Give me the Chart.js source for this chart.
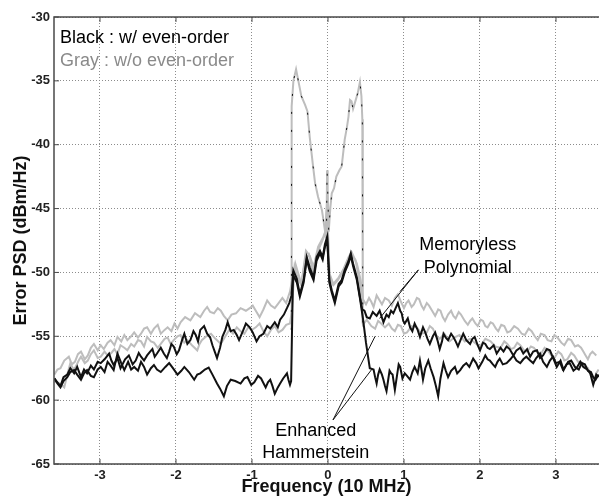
<!DOCTYPE html>
<html lang="en">
<head>
<meta charset="UTF-8">
<title>Error PSD</title>
<script src="https://cdn.jsdelivr.net/npm/chart.js"></script>
<style>
  html, body { margin: 0; padding: 0; background: #fff; }
  #wrap { width: 599px; height: 502px; }
</style>
</head>
<body>
<div id="wrap"><canvas id="psdChart"></canvas></div>
<script>
  // tick positions
  const xTicks = [-3, -2, -1, 0, 1, 2, 3];
  const yTicks = [-65, -60, -55, -50, -45, -40, -35, -30];

  // [frequency (10 MHz), error PSD (dBm/Hz)]
  // black, memoryless polynomial (w/ even-order)
  const blackMemoryless = [
    [-3.60,-58.3],[-3.56,-58.6],[-3.52,-58.9],[-3.48,-58.2],[-3.43,-58.0],[-3.39,-57.5],[-3.34,-57.9],[-3.30,-57.4],
    [-3.25,-58.2],[-3.21,-57.6],[-3.17,-57.9],[-3.12,-57.3],[-3.08,-57.6],[-3.03,-57.0],[-2.99,-57.1],[-2.94,-56.8],
    [-2.88,-56.35],[-2.85,-56.9],[-2.82,-57.25],[-2.77,-56.7],[-2.73,-57.5],[-2.67,-56.8],[-2.62,-56.5],[-2.57,-57.2],
    [-2.53,-56.9],[-2.49,-56.3],[-2.46,-56.6],[-2.42,-56.9],[-2.38,-56.5],[-2.34,-56.2],[-2.31,-56.0],[-2.28,-56.6],
    [-2.25,-56.35],[-2.20,-55.9],[-2.16,-56.35],[-2.12,-56.7],[-2.09,-56.2],[-2.06,-55.6],[-2.03,-55.8],[-1.99,-56.4],
    [-1.96,-56.1],[-1.92,-55.3],[-1.89,-54.8],[-1.85,-55.6],[-1.81,-55.3],[-1.77,-54.6],[-1.74,-54.9],[-1.71,-55.4],
    [-1.68,-54.5],[-1.63,-54.2],[-1.59,-54.8],[-1.55,-55.1],[-1.52,-55.7],[-1.49,-56.2],[-1.46,-56.7],[-1.42,-55.9],
    [-1.39,-55.05],[-1.35,-54.5],[-1.32,-53.9],[-1.28,-54.6],[-1.24,-54.5],[-1.20,-54.9],[-1.17,-55.3],[-1.12,-54.6],
    [-1.08,-54.0],[-1.03,-54.3],[-0.99,-54.7],[-0.94,-55.4],[-0.90,-55.0],[-0.85,-54.8],[-0.80,-54.2],[-0.76,-54.4],
    [-0.70,-53.9],[-0.66,-54.3],[-0.63,-53.7],[-0.58,-53.3],[-0.54,-52.8],[-0.51,-52.4],[-0.48,-51.8],
    [-0.456,-49.85],[-0.41,-50.5],[-0.37,-51.7],[-0.32,-50.6],[-0.28,-48.8],[-0.24,-49.6],[-0.19,-50.4],[-0.15,-48.8],
    [-0.105,-48.3],[-0.07,-48.8],[-0.04,-47.8],[-0.01,-47.2],[0.018,-50.6],[0.05,-51.4],[0.09,-52.2],[0.14,-50.9],
    [0.18,-50.6],[0.22,-49.8],[0.27,-49.1],[0.30,-48.5],[0.33,-49.3],[0.38,-50.4],[0.42,-51.9],
    [0.45,-52.9],[0.48,-53.0],[0.51,-53.5],[0.55,-53.6],[0.59,-53.1],[0.64,-53.4],[0.68,-53.0],[0.73,-53.9],
    [0.77,-53.3],[0.80,-53.5],[0.83,-53.0],[0.86,-53.2],[0.89,-52.8],[0.92,-52.4],[0.95,-53.0],[0.97,-53.2],
    [0.99,-53.8],[1.01,-54.0],[1.05,-53.6],[1.08,-54.3],[1.11,-54.6],[1.14,-54.0],[1.18,-54.5],[1.21,-55.05],
    [1.25,-54.3],[1.28,-54.7],[1.31,-55.2],[1.34,-55.6],[1.38,-55.0],[1.41,-54.7],[1.44,-55.3],[1.47,-56.0],
    [1.50,-55.4],[1.52,-54.8],[1.55,-55.1],[1.58,-55.3],[1.62,-54.8],[1.65,-55.05],[1.68,-55.4],[1.71,-55.8],
    [1.75,-55.2],[1.78,-54.8],[1.82,-55.3],[1.87,-55.6],[1.90,-55.2],[1.93,-55.05],[1.97,-55.7],[2.00,-56.1],
    [2.04,-55.5],[2.07,-55.6],[2.10,-55.9],[2.13,-56.0],[2.18,-55.7],[2.22,-56.35],[2.27,-55.9],[2.31,-56.2],
    [2.35,-55.8],[2.39,-56.0],[2.44,-56.5],[2.48,-56.1],[2.53,-55.9],[2.57,-56.35],[2.62,-56.0],[2.66,-56.6],
    [2.70,-56.2],[2.75,-56.1],[2.79,-56.7],[2.83,-56.5],[2.88,-56.0],[2.92,-56.1],[2.97,-56.8],[3.01,-57.4],
    [3.06,-56.9],[3.10,-57.65],[3.14,-57.2],[3.18,-57.1],[3.23,-57.7],[3.27,-57.5],[3.32,-57.0],[3.36,-57.4],
    [3.41,-57.6],[3.45,-57.9],[3.49,-58.8],[3.53,-58.0],[3.56,-58.2]
  ];

  // black, enhanced Hammerstein (w/ even-order)
  const blackHammerstein = [
    [-3.60,-58.3],[-3.56,-58.7],[-3.52,-59.0],[-3.48,-58.5],[-3.43,-58.2],[-3.39,-57.8],[-3.34,-57.65],[-3.30,-58.0],
    [-3.25,-58.4],[-3.21,-57.9],[-3.17,-57.65],[-3.12,-58.1],[-3.08,-58.2],[-3.03,-57.6],[-2.99,-57.4],[-2.94,-57.8],
    [-2.90,-57.0],[-2.86,-57.3],[-2.82,-57.65],[-2.77,-56.35],[-2.72,-57.1],[-2.68,-57.65],[-2.63,-57.0],[-2.59,-57.6],
    [-2.55,-57.4],[-2.50,-57.7],[-2.46,-57.0],[-2.42,-57.4],[-2.38,-58.0],[-2.33,-57.5],[-2.29,-57.25],[-2.25,-57.6],
    [-2.20,-57.8],[-2.14,-57.4],[-2.09,-57.1],[-2.04,-57.5],[-1.98,-58.0],[-1.93,-57.7],[-1.89,-57.4],[-1.83,-57.8],
    [-1.76,-58.4],[-1.72,-58.0],[-1.68,-57.9],[-1.62,-57.6],[-1.57,-57.45],[-1.52,-58.0],[-1.46,-58.7],[-1.42,-59.1],
    [-1.37,-59.7],[-1.33,-58.9],[-1.28,-58.4],[-1.22,-58.5],[-1.15,-58.7],[-1.10,-58.3],[-1.06,-58.2],[-1.01,-58.8],
    [-0.97,-58.6],[-0.92,-58.1],[-0.88,-58.3],[-0.82,-59.0],[-0.79,-58.6],[-0.76,-58.4],[-0.73,-58.9],[-0.70,-59.5],
    [-0.66,-59.0],[-0.63,-58.7],[-0.59,-58.3],[-0.54,-57.9],[-0.52,-58.4],[-0.50,-58.8],[-0.485,-58.5],
    [-0.46,-50.2],[-0.41,-50.8],[-0.37,-51.9],[-0.32,-50.8],[-0.28,-49.0],[-0.24,-49.9],[-0.19,-50.6],[-0.15,-49.1],
    [-0.105,-48.5],[-0.07,-49.0],[-0.04,-48.0],[-0.01,-47.4],[0.018,-50.8],[0.05,-51.6],[0.09,-52.4],[0.14,-51.1],
    [0.18,-50.8],[0.22,-50.0],[0.27,-49.3],[0.30,-48.7],[0.33,-49.5],[0.38,-50.6],[0.42,-52.0],[0.46,-53.6],
    [0.50,-55.5],[0.55,-57.5],
    [0.60,-57.6],[0.62,-58.2],[0.64,-58.7],[0.66,-58.0],[0.68,-57.6],[0.71,-58.0],[0.73,-58.4],[0.75,-58.9],
    [0.77,-59.3],[0.79,-58.5],[0.81,-57.7],[0.83,-57.9],[0.85,-58.0],[0.88,-59.2],[0.91,-58.0],[0.93,-57.2],
    [0.95,-57.4],[0.98,-58.3],[1.01,-57.9],[1.04,-58.1],[1.08,-58.4],[1.11,-57.8],[1.14,-57.4],[1.18,-57.9],
    [1.21,-56.9],[1.23,-57.6],[1.25,-58.4],[1.28,-57.5],[1.32,-56.9],[1.35,-57.5],[1.39,-58.2],[1.42,-58.9],
    [1.45,-59.7],[1.48,-58.3],[1.52,-57.1],[1.55,-57.7],[1.58,-58.2],[1.62,-57.7],[1.67,-57.4],[1.70,-57.9],
    [1.74,-57.65],[1.78,-57.3],[1.82,-57.1],[1.86,-57.4],[1.91,-56.75],[1.95,-57.1],[1.98,-57.5],[2.03,-57.0],
    [2.07,-56.5],[2.10,-56.8],[2.13,-56.9],[2.17,-57.2],[2.20,-57.4],[2.23,-57.0],[2.26,-56.75],[2.30,-57.2],
    [2.35,-57.1],[2.40,-56.8],[2.44,-56.5],[2.48,-56.9],[2.53,-57.1],[2.57,-56.8],[2.61,-56.6],[2.66,-56.9],
    [2.70,-57.1],[2.74,-56.7],[2.79,-56.35],[2.83,-57.0],[2.88,-57.4],[2.92,-56.9],[2.96,-56.6],[3.00,-57.1],
    [3.05,-57.0],[3.09,-57.6],[3.12,-57.4],[3.16,-57.0],[3.20,-56.9],[3.25,-57.4],[3.30,-57.6],[3.34,-57.1],
    [3.38,-57.2],[3.42,-57.7],[3.46,-57.8],[3.49,-58.2],[3.52,-58.4],[3.56,-58.0]
  ];

  // gray, memoryless polynomial (w/o even-order)
  const grayMemoryless = [
    [-3.60,-58.0],[-3.56,-57.6],[-3.52,-57.5],[-3.47,-56.9],[-3.41,-56.6],[-3.37,-57.2],[-3.33,-57.0],[-3.29,-56.4],
    [-3.25,-56.2],[-3.20,-56.8],[-3.16,-56.5],[-3.12,-55.9],[-3.08,-55.6],[-3.03,-56.1],[-2.99,-55.7],[-2.95,-56.0],
    [-2.90,-55.5],[-2.86,-55.3],[-2.81,-55.7],[-2.77,-55.05],[-2.72,-55.4],[-2.68,-54.9],[-2.64,-55.3],[-2.59,-55.0],
    [-2.55,-54.7],[-2.50,-55.1],[-2.46,-54.8],[-2.42,-54.4],[-2.38,-54.3],[-2.33,-54.8],[-2.29,-54.4],[-2.24,-54.1],
    [-2.20,-54.8],[-2.15,-54.5],[-2.11,-54.3],[-2.06,-54.6],[-2.02,-54.0],[-1.98,-54.4],[-1.94,-53.9],[-1.88,-53.5],
    [-1.81,-53.75],[-1.75,-53.2],[-1.68,-53.5],[-1.63,-53.0],[-1.59,-52.7],[-1.55,-53.1],[-1.50,-53.2],[-1.45,-52.8],
    [-1.41,-53.0],[-1.37,-53.4],[-1.32,-53.75],[-1.27,-53.3],[-1.21,-53.2],[-1.15,-52.8],[-1.08,-53.0],[-1.03,-52.8],
    [-0.99,-52.6],[-0.94,-53.1],[-0.90,-53.5],[-0.85,-52.9],[-0.80,-52.2],[-0.75,-52.6],[-0.70,-52.8],[-0.65,-52.4],
    [-0.60,-52.0],[-0.55,-52.4],[-0.50,-51.5],
    [-0.47,-50.5],[-0.43,-49.3],[-0.39,-50.1],[-0.35,-50.9],[-0.29,-48.3],[-0.24,-48.7],[-0.19,-49.6],[-0.13,-48.0],
    [-0.06,-47.2],[-0.03,-46.7],[-0.012,-44.5],[0.02,-50.1],[0.07,-50.9],[0.14,-50.4],[0.20,-49.8],[0.27,-48.8],
    [0.31,-48.4],[0.38,-49.3],[0.43,-50.6],
    [0.46,-52.1],[0.50,-52.5],[0.54,-52.0],[0.57,-52.3],[0.60,-52.7],[0.64,-51.8],[0.68,-52.2],[0.71,-52.5],
    [0.75,-52.0],[0.80,-52.2],[0.84,-52.6],[0.88,-52.0],[0.92,-51.7],[0.96,-52.3],[1.00,-52.8],[1.03,-52.4],
    [1.06,-52.2],[1.10,-52.7],[1.13,-52.5],[1.17,-52.0],[1.20,-52.1],[1.23,-52.6],[1.26,-52.9],[1.30,-52.4],
    [1.33,-52.6],[1.37,-53.0],[1.41,-53.4],[1.45,-52.9],[1.48,-53.0],[1.51,-53.5],[1.54,-53.8],[1.58,-53.3],
    [1.62,-53.0],[1.65,-53.4],[1.68,-53.6],[1.72,-53.1],[1.75,-53.3],[1.80,-53.8],[1.84,-54.1],[1.87,-53.8],
    [1.90,-53.6],[1.94,-54.0],[1.97,-54.2],[2.01,-53.7],[2.04,-53.8],[2.07,-54.2],[2.10,-54.3],[2.14,-53.9],
    [2.17,-54.0],[2.21,-54.4],[2.24,-54.6],[2.28,-54.1],[2.32,-54.2],[2.36,-54.7],[2.40,-54.6],[2.45,-54.2],
    [2.50,-54.4],[2.55,-54.8],[2.59,-54.9],[2.64,-54.4],[2.68,-54.6],[2.72,-55.0],[2.76,-55.3],[2.80,-54.8],
    [2.85,-54.9],[2.89,-55.3],[2.94,-55.4],[2.98,-54.9],[3.02,-55.1],[3.07,-55.5],[3.11,-55.7],[3.16,-55.2],
    [3.20,-55.3],[3.25,-55.8],[3.29,-55.7],[3.33,-55.9],[3.36,-56.2],[3.39,-56.5],[3.42,-56.8],[3.45,-56.4],
    [3.48,-56.2],[3.53,-56.5]
  ];

  // gray, enhanced Hammerstein (w/o even-order)
  const grayHammerstein = [
    [-3.60,-58.5],[-3.53,-58.7],[-3.47,-59.0],[-3.43,-58.0],[-3.39,-57.1],[-3.35,-57.6],[-3.32,-57.4],[-3.28,-56.9],
    [-3.25,-56.6],[-3.20,-57.1],[-3.16,-56.9],[-3.12,-56.4],[-3.08,-56.1],[-3.03,-56.7],[-2.99,-56.6],[-2.94,-56.2],
    [-2.90,-56.5],[-2.85,-56.3],[-2.81,-56.0],[-2.77,-56.4],[-2.73,-55.7],[-2.68,-55.9],[-2.64,-56.1],[-2.59,-55.6],
    [-2.55,-55.8],[-2.50,-55.3],[-2.46,-55.4],[-2.42,-55.8],[-2.38,-55.05],[-2.33,-55.4],[-2.29,-55.5],[-2.24,-55.9],
    [-2.20,-55.6],[-2.15,-55.2],[-2.11,-55.1],[-2.07,-55.6],[-2.03,-55.3],[-1.98,-55.0],[-1.94,-54.9],[-1.89,-55.5],
    [-1.85,-55.3],[-1.79,-55.7],[-1.72,-56.1],[-1.69,-55.6],[-1.66,-55.3],[-1.60,-55.0],[-1.54,-54.8],[-1.48,-55.2],
    [-1.41,-55.6],[-1.35,-55.0],[-1.30,-54.5],[-1.25,-54.8],[-1.20,-54.3],[-1.15,-54.6],[-1.10,-54.8],[-1.05,-54.3],
    [-1.00,-54.5],[-0.95,-54.3],[-0.90,-54.0],[-0.85,-54.6],[-0.80,-55.0],[-0.75,-54.5],[-0.70,-54.2],[-0.65,-54.7],
    [-0.60,-54.5],[-0.55,-54.1],[-0.50,-54.0],[-0.475,-53.0],
    [-0.44,-49.6],[-0.40,-50.4],[-0.35,-51.0],[-0.30,-49.0],[-0.25,-48.6],[-0.20,-49.9],[-0.14,-48.4],[-0.08,-47.6],
    [-0.04,-47.0],[-0.015,-45.0],[0.02,-50.4],[0.07,-51.0],[0.13,-50.6],[0.19,-50.0],[0.25,-49.2],[0.30,-48.6],
    [0.36,-49.0],[0.42,-50.8],
    [0.46,-54.1],[0.51,-53.7],[0.57,-54.2],[0.62,-54.4],[0.66,-53.8],[0.70,-54.0],[0.75,-54.3],[0.80,-54.0],
    [0.84,-54.4],[0.88,-54.6],[0.92,-54.1],[0.96,-54.2],[1.00,-54.8],[1.04,-54.7],[1.10,-54.2],[1.17,-54.3],
    [1.23,-54.8],[1.30,-54.7],[1.34,-54.2],[1.38,-54.4],[1.42,-54.9],[1.47,-55.2],[1.53,-54.8],[1.60,-55.4],
    [1.66,-55.1],[1.73,-54.9],[1.80,-55.4],[1.87,-55.2],[1.93,-55.5],[2.00,-55.8],[2.07,-55.2],[2.14,-55.4],
    [2.20,-55.8],[2.27,-55.9],[2.32,-55.4],[2.36,-55.6],[2.41,-56.0],[2.45,-55.9],[2.49,-55.5],[2.53,-55.7],
    [2.58,-56.1],[2.62,-56.2],[2.67,-55.8],[2.71,-55.9],[2.76,-56.3],[2.80,-56.4],[2.85,-55.9],[2.89,-56.1],
    [2.94,-56.5],[2.98,-56.7],[3.03,-56.2],[3.07,-56.4],[3.11,-56.9],[3.15,-56.8],[3.20,-56.3],[3.24,-56.5],
    [3.29,-57.0],[3.33,-57.0],[3.38,-57.3],[3.42,-57.5],[3.46,-58.0],[3.50,-58.5],[3.53,-57.9],[3.56,-57.6]
  ];

  // in-band error without DPD (gray with sparse black dashes on top)
  const inBand = [
    [-0.482,-54.5],[-0.478,-37.0],[-0.455,-35.0],[-0.42,-34.1],[-0.39,-35.0],[-0.35,-36.2],[-0.30,-36.9],[-0.27,-37.4],
    [-0.24,-39.4],[-0.20,-41.5],[-0.17,-43.0],[-0.13,-44.1],[-0.08,-45.1],[-0.04,-46.7],[-0.02,-47.3],[-0.012,-42.0],
    [-0.004,-43.5],[0.01,-46.8],[0.03,-45.0],[0.05,-43.8],[0.08,-43.4],[0.11,-42.5],[0.15,-42.0],[0.18,-41.7],
    [0.22,-39.6],[0.25,-38.6],[0.27,-37.8],[0.29,-36.5],[0.31,-36.6],[0.33,-37.2],[0.35,-36.8],[0.39,-36.0],
    [0.42,-35.1],[0.44,-36.2],[0.452,-38.0],[0.458,-54.0]
  ];

  const toPoints = rows => rows.map(r => ({ x: r[0], y: r[1] }));

  const FONT = '"Liberation Sans", Arial, Helvetica, sans-serif';
  const BLACK = '#111111';
  const GRAY = '#bdbdbd';

  const line = (rows, color, width, order, dash) => ({
    data: toPoints(rows),
    borderColor: color,
    borderWidth: width,
    borderDash: dash || [],
    pointRadius: 0,
    tension: 0,
    fill: false,
    order: order
  });

  // frame, inner ticks, text notes and leader lines
  const notesPlugin = {
    id: 'notes',
    afterDatasetsDraw(chart) {
      const { ctx, chartArea: a, scales: { x, y } } = chart;
      ctx.save();

      // leader lines
      ctx.strokeStyle = BLACK;
      ctx.lineWidth = 1;
      const leaders = [
        [1.19, -49.8, 0.947, -51.5],
        [1.19, -49.8, 0.68, -53.6],
        [0.066, -61.55, 0.62, -55.0],
        [0.066, -61.55, 0.575, -57.6]
      ];
      leaders.forEach(l => {
        ctx.beginPath();
        ctx.moveTo(x.getPixelForValue(l[0]), y.getPixelForValue(l[1]));
        ctx.lineTo(x.getPixelForValue(l[2]), y.getPixelForValue(l[3]));
        ctx.stroke();
      });

      // text
      ctx.font = '18px ' + FONT;
      ctx.textBaseline = 'alphabetic';
      ctx.textAlign = 'left';
      ctx.fillStyle = '#000';
      ctx.fillText('Black : w/ even-order', a.left + 6, a.top + 26);
      ctx.fillStyle = '#8a8a8a';
      ctx.fillText('Gray : w/o even-order', a.left + 6, a.top + 49);

      ctx.fillStyle = '#000';
      ctx.textAlign = 'center';
      ctx.fillText('Memoryless', x.getPixelForValue(1.84), y.getPixelForValue(-48.24));
      ctx.fillText('Polynomial', x.getPixelForValue(1.84), y.getPixelForValue(-50.04));
      ctx.fillText('Enhanced', x.getPixelForValue(-0.16), y.getPixelForValue(-62.8));
      ctx.fillText('Hammerstein', x.getPixelForValue(-0.16), y.getPixelForValue(-64.53));

      // frame
      ctx.strokeStyle = '#4a4a4a';
      ctx.lineWidth = 1.5;
      ctx.beginPath();
      ctx.moveTo(a.right + 1, a.top);
      ctx.lineTo(a.left, a.top);
      ctx.lineTo(a.left, a.bottom);
      ctx.lineTo(a.right + 1, a.bottom);
      ctx.stroke();

      // small inward ticks
      ctx.lineWidth = 1;
      ctx.beginPath();
      xTicks.forEach(v => {
        const px = x.getPixelForValue(v);
        ctx.moveTo(px, a.bottom); ctx.lineTo(px, a.bottom - 5);
        ctx.moveTo(px, a.top); ctx.lineTo(px, a.top + 5);
      });
      yTicks.forEach(v => {
        const py = y.getPixelForValue(v);
        ctx.moveTo(a.left, py); ctx.lineTo(a.left + 5, py);
      });
      ctx.stroke();
      ctx.restore();
    }
  };

  new Chart(document.getElementById('psdChart'), {
    type: 'line',
    data: {
      datasets: [
        line(inBand, BLACK, 1, 0, [2, 16]),
        line(blackMemoryless, BLACK, 2, 1),
        line(blackHammerstein, BLACK, 2, 1),
        line(inBand, GRAY, 2, 2),
        line(grayMemoryless, GRAY, 2, 3),
        line(grayHammerstein, GRAY, 2, 3)
      ]
    },
    options: {
      responsive: true,
      maintainAspectRatio: false,
      animation: false,
      layout: { padding: { top: 17, left: 0, right: 0, bottom: 0 } },
      plugins: {
        legend: { display: false },
        tooltip: { enabled: false }
      },
      scales: {
        x: {
          type: 'linear',
          min: -3.605,
          max: 3.566,
          afterBuildTicks: axis => { axis.ticks = xTicks.map(v => ({ value: v })); },
          afterFit: axis => { axis.height = 38; },
          grid: { color: '#8c8c8c', lineWidth: 1, drawTicks: false },
          border: { display: false, dash: [1, 2] },
          ticks: {
            padding: 4,
            color: '#222',
            font: { family: FONT, size: 13, weight: 'bold' },
            callback: v => String(v)
          },
          title: {
            display: true,
            text: 'Frequency (10 MHz)',
            color: '#111',
            font: { family: FONT, size: 18, weight: 'bold' }
          }
        },
        y: {
          type: 'linear',
          min: -65,
          max: -30,
          afterBuildTicks: axis => { axis.ticks = yTicks.map(v => ({ value: v })); },
          afterFit: axis => { axis.width = 54; },
          grid: { color: '#8c8c8c', lineWidth: 1, drawTicks: false },
          border: { display: false, dash: [1, 2] },
          ticks: {
            padding: 4,
            color: '#222',
            font: { family: FONT, size: 13, weight: 'bold' },
            callback: v => String(v)
          },
          title: {
            display: true,
            text: 'Error PSD (dBm/Hz)',
            color: '#111',
            font: { family: FONT, size: 18, weight: 'bold', lineHeight: 1.9 }
          }
        }
      }
    },
    plugins: [notesPlugin]
  });
</script>
</body>
</html>
